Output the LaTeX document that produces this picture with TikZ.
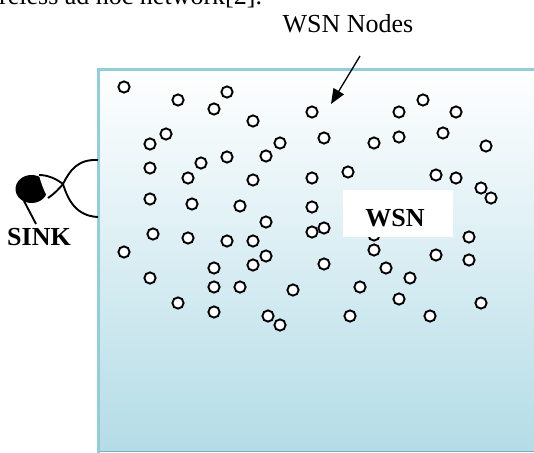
\documentclass[tikz,border=0pt]{standalone}
\usepackage{fontspec}
\setmainfont{Liberation Serif}
\usetikzlibrary{arrows.meta}
\definecolor{boxedge}{RGB}{146,205,220}
\definecolor{boxbot}{RGB}{180,220,231}
\begin{document}
\begin{tikzpicture}[x=1pt,y=-1pt,
  lbl/.style={font=\fontsize{26pt}{30pt}\selectfont, inner sep=0pt},
  sensor/.style={circle, draw=black, fill=white, line width=1.9pt, minimum size=11.2pt, inner sep=0pt},
  sinkline/.style={line width=1.9pt, black},
  wsnarrow/.style={line width=1.3pt, -{Triangle[length=15pt,width=12pt]}}]
\clip (0,0) rectangle (534,452);
% network area
\shade[top color=white, bottom color=boxbot] (97,69) rectangle (540,451);
\draw[boxedge!85!black, line width=1pt] (97,451) -- (540,451);
\draw[boxedge, line width=2.6pt] (98.6,453) -- (98.6,69.5) -- (540,69.5);
% sensor nodes
\foreach \x/\y [count=\i] in {124/87,178/100,214/109,227/92,253/121,166/134,150/144,280/143,
  266/156,227/157,201/163,150/168,188/178,253/180,150/199,192/204,240/206,266/222,
  153/234,188/238,227/241,253/241,124/252,266/256,253/265,214/268,150/278,214/287,
  240/287,293/290,178/303,214/312,268/316,280/325,
  312/112,399/112,423/100,456/112,324/138,374/143,399/137,443/133,486/146,
  312/178,348/172,436/175,456/178,481/188,491/198,312/207,312/232,324/228,
  374/235,374/250,469/237,436/255,469/260,324/264,386/268,410/278,360/287,
  399/299,481/303,350/316,430/316}
  \node[sensor] (n\i) at (\x,\y) {};
% WSN label box
\node[fill=white, minimum width=110pt, minimum height=47pt, inner sep=0pt] (wsnbox) at (398,213.5) {};
\node[lbl, anchor=base] (wsnlbl) at (395,226.5) {\textbf{WSN}};
% WSN Nodes label and arrow
\node[lbl, anchor=base] (nodeslbl) at (348,33) {WSN Nodes};
\coordinate (arrowstart) at (360,56);
\coordinate (arrowtip) at (331,104);
\draw[wsnarrow] (arrowstart) -- (arrowtip);
% sink
\fill[black] (31.5,189) ellipse [x radius=16pt, y radius=14pt];
\fill[white] (63,184) .. controls (55,178) and (47,175) .. (39,175)
  .. controls (41,183) and (44,191) .. (48,198)
  .. controls (54,194) and (59,189) .. (63,184) -- cycle;
\coordinate (tailtop) at (98,160);
\coordinate (tailbot) at (98,217);
\draw[sinkline] (tailtop) .. controls (78,159) and (70,170) .. (63,184)
  .. controls (59,189) and (54,194) .. (48,198);
\draw[sinkline] (tailbot) .. controls (76,216) and (68,200) .. (63,184)
  .. controls (55,178) and (47,175) .. (39,175);
\coordinate (stickend) at (36,224);
\draw[sinkline] (24,201) -- (stickend);
\node[lbl, anchor=base] (sinklbl) at (39,245) {\textbf{SINK}};
% clipped line of text above
\node[lbl, anchor=base west] (toptext) at (-27,4.5) {wireless ad hoc network[2].};
\end{tikzpicture}
\end{document}
